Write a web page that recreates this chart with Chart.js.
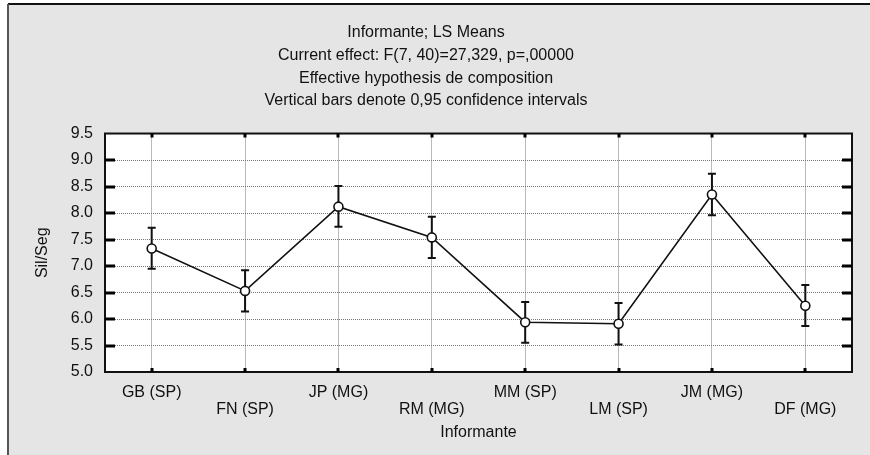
<!DOCTYPE html>
<html>
<head>
<meta charset="utf-8">
<script src="https://cdn.jsdelivr.net/npm/chart.js@4.4.0/dist/chart.umd.min.js"></script>
<style>
  html, body { margin: 0; padding: 0; background: #fff; }
</style>
</head>
<body>
<canvas id="c" width="870" height="455"></canvas>
<script>
// categorias (informantes) e médias LS com intervalos de confiança 0,95
const categories = ['GB (SP)', 'FN (SP)', 'JP (MG)', 'RM (MG)', 'MM (SP)', 'LM (SP)', 'JM (MG)', 'DF (MG)'];
const lsMeans = [7.33, 6.53, 8.12, 7.54, 5.94, 5.91, 8.35, 6.25];
const ciLower = [6.95, 6.14, 7.74, 7.15, 5.55, 5.52, 7.96, 5.87];
const ciUpper = [7.72, 6.92, 8.51, 7.93, 6.32, 6.30, 8.74, 6.64];
const yMin = 5.0;
const yMax = 9.5;
const yStep = 0.5;
const titleLines = [
  'Informante; LS Means',
  'Current effect: F(7, 40)=27,329, p=,00000',
  'Effective hypothesis de composition',
  'Vertical bars denote 0,95 confidence intervals'
];

const FONT = '"Liberation Sans", Arial, sans-serif';
const TEXT = '#111';
const SIZE = 16;

// fundo, moldura, barras de erro e marcas grossas
const decor = {
  id: 'decor',
  beforeDraw(chart) {
    const { ctx, chartArea: a } = chart;
    ctx.save();
    ctx.fillStyle = '#fff';
    ctx.fillRect(0, 0, chart.width, chart.height);
    ctx.fillStyle = '#e5e5e5';
    ctx.fillRect(8, 4, chart.width - 8, chart.height - 4);
    ctx.fillStyle = '#fff';
    ctx.fillRect(a.left, a.top, a.right - a.left, a.bottom - a.top);
    ctx.restore();
  },
  beforeDatasetsDraw(chart) {
    const { ctx } = chart;
    const x = chart.scales.x, y = chart.scales.y;
    ctx.save();
    ctx.strokeStyle = '#111';
    ctx.lineWidth = 2;
    for (let i = 0; i < categories.length; i++) {
      const px = x.getPixelForValue(i);
      const lo = y.getPixelForValue(ciLower[i]);
      const hi = y.getPixelForValue(ciUpper[i]);
      ctx.beginPath();
      ctx.moveTo(px, lo); ctx.lineTo(px, hi);
      ctx.moveTo(px - 4, lo); ctx.lineTo(px + 4, lo);
      ctx.moveTo(px - 4, hi); ctx.lineTo(px + 4, hi);
      ctx.stroke();
    }
    ctx.restore();
  },
  afterDraw(chart) {
    const { ctx, chartArea: a } = chart;
    const x = chart.scales.x, y = chart.scales.y;
    ctx.save();
    // moldura externa
    ctx.fillStyle = '#111';
    ctx.fillRect(8, 3, chart.width - 8, 2);
    ctx.fillStyle = '#555';
    ctx.fillRect(7, 4, 2, chart.height - 4);
    // borda do gráfico
    ctx.strokeStyle = '#111';
    ctx.lineWidth = 2;
    ctx.strokeRect(a.left, a.top, a.right - a.left, a.bottom - a.top);
    // marcas grossas
    ctx.fillStyle = '#000';
    y.ticks.forEach((t, i) => {
      if (t.value <= yMin || t.value >= yMax) return;
      const py = Math.round(y.getPixelForTick(i));
      ctx.fillRect(a.left, py - 1.5, 10, 3);
      ctx.fillRect(a.right - 10, py - 1.5, 10, 3);
    });
    for (let i = 0; i < categories.length; i++) {
      const px = Math.round(x.getPixelForValue(i));
      ctx.fillRect(px - 1.5, a.top, 3, 4);
      ctx.fillRect(px - 1.5, a.bottom - 4, 3, 4);
    }
    ctx.restore();
  }
};

new Chart(document.getElementById('c'), {
  type: 'line',
  data: {
    labels: categories,
    datasets: [{
      data: lsMeans,
      borderColor: '#111',
      borderWidth: 1.6,
      pointRadius: 4.5,
      pointBackgroundColor: '#fff',
      pointBorderColor: '#111',
      pointBorderWidth: 1.6,
      tension: 0
    }]
  },
  options: {
    responsive: false,
    devicePixelRatio: 1,
    animation: false,
    layout: { padding: { left: 0, right: 18, top: 0, bottom: 0 } },
    plugins: {
      legend: { display: false },
      tooltip: { enabled: false },
      title: {
        display: true,
        text: titleLines,
        color: TEXT,
        font: { family: FONT, size: SIZE, weight: 'normal', lineHeight: 1.43 },
        padding: { top: 21, bottom: 21 }
      }
    },
    scales: {
      x: {
        type: 'category',
        offset: true,
        afterFit(s) { s.height = 83; },
        grid: { offset: false, color: '#777', drawTicks: false },
        border: { display: false, dash: [1, 1] },
        ticks: {
          autoSkip: false,
          maxRotation: 0,
          padding: 12,
          color: TEXT,
          font: { family: FONT, size: SIZE, lineHeight: 1.07 },
          callback: (v, i) => i % 2 ? ['', categories[i]] : categories[i]
        },
        title: {
          display: true,
          text: 'Informante',
          color: TEXT,
          font: { family: FONT, size: SIZE, lineHeight: 1.2 },
          padding: { top: 0, bottom: 13 }
        }
      },
      y: {
        min: yMin,
        max: yMax,
        afterFit(s) { s.width = 105; },
        grid: { color: '#777', drawTicks: false },
        border: { display: false, dash: [1, 1] },
        ticks: {
          stepSize: yStep,
          padding: 12,
          color: TEXT,
          font: { family: FONT, size: SIZE },
          callback: v => v.toFixed(1)
        },
        title: {
          display: true,
          text: 'Sil/Seg',
          color: TEXT,
          font: { family: FONT, size: SIZE, lineHeight: 1.2 },
          padding: { top: 33, bottom: 0 }
        }
      }
    }
  },
  plugins: [decor]
});
</script>
</body>
</html>
